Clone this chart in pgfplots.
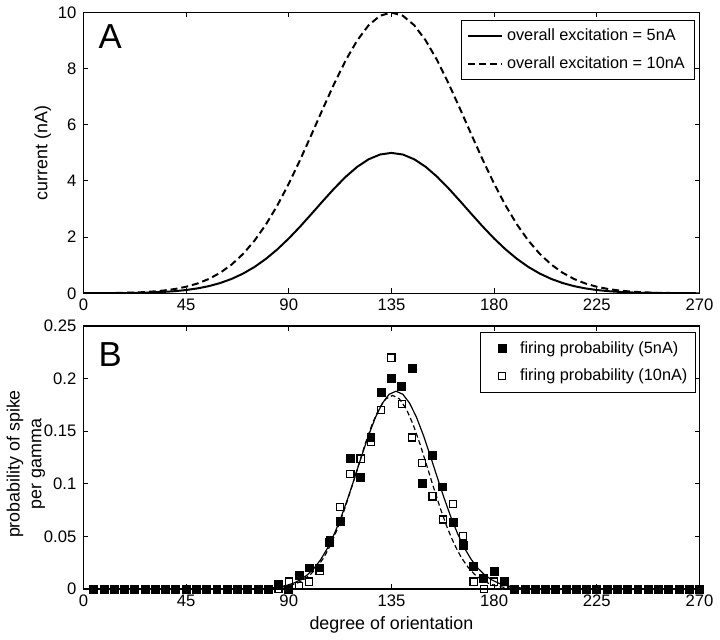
\documentclass[border=0pt]{standalone}
\usepackage{pgfplots}
\pgfplotsset{compat=1.18}
\usepackage{pgfplotstable}
\usepackage{fontspec}
\setmainfont{Liberation Sans}

\pgfplotstableread{
x a5 a10
0 0.001 0.002
5 0.002 0.004
10 0.004 0.007
15 0.006 0.012
20 0.011 0.021
25 0.018 0.036
30 0.030 0.060
35 0.048 0.096
40 0.075 0.151
45 0.116 0.232
50 0.174 0.348
55 0.255 0.511
60 0.366 0.732
65 0.513 1.026
70 0.702 1.404
75 0.938 1.876
80 1.226 2.451
85 1.565 3.129
90 1.951 3.902
95 2.377 4.754
100 2.830 5.659
105 3.291 6.582
110 3.739 7.479
115 4.152 8.304
120 4.504 9.007
125 4.773 9.546
130 4.942 9.885
135 5.000 10.000
140 4.942 9.885
145 4.773 9.546
150 4.504 9.007
155 4.152 8.304
160 3.739 7.479
165 3.291 6.582
170 2.830 5.659
175 2.377 4.754
180 1.951 3.902
185 1.565 3.129
190 1.226 2.451
195 0.938 1.876
200 0.702 1.404
205 0.513 1.026
210 0.366 0.732
215 0.255 0.511
220 0.174 0.348
225 0.116 0.232
230 0.075 0.151
235 0.048 0.096
240 0.030 0.060
245 0.018 0.036
250 0.011 0.021
255 0.006 0.012
260 0.004 0.007
265 0.002 0.004
270 0.001 0.002
}\currents

\pgfplotstableread{
x p5 p10
4.5 0 0
9 0 0
13.5 0 0
18 0 0
22.5 0 0
27 0 0
31.5 0 0
36 0 0
40.5 0 0
45 0 0
49.5 0 0
54 0 0
58.5 0 0
63 0 0
67.5 0 0
72 0 0
76.5 0 0
81 0 0
85.5 0.004 0
90 0 0.007
94.5 0.013 0.003
99 0.020 0.007
103.5 0.020 0.017
108 0.044 0.046
112.5 0.064 0.078
117 0.124 0.109
121.5 0.106 0.124
126 0.144 0.140
130.5 0.187 0.170
135 0.200 0.220
139.5 0.193 0.176
144 0.210 0.144
148.5 0.100 0.120
153 0.127 0.088
157.5 0.097 0.066
162 0.063 0.081
166.5 0.041 0.050
171 0.021 0.007
175.5 0.010 0
180 0.017 0.007
184.5 0.007 0.003
189 0 0
193.5 0 0
198 0 0
202.5 0 0
207 0 0
211.5 0 0
216 0 0
220.5 0 0
225 0 0
229.5 0 0
234 0 0
238.5 0 0
243 0 0
247.5 0 0
252 0 0
256.5 0 0
261 0 0
265.5 0 0
270 0 0
}\firing

\pgfplotstableread{
x y
0 0
77 0.0003
80 0.0006
83 0.0011
86 0.0020
89 0.0033
92 0.0054
95 0.0086
98 0.0131
101 0.0194
104 0.0279
107 0.0389
110 0.0525
113 0.0686
116 0.0869
119 0.1066
122 0.1268
125 0.1461
128 0.1631
131 0.1765
134 0.1851
137 0.1880
140 0.1851
143 0.1765
146 0.1631
149 0.1461
152 0.1268
155 0.1066
158 0.0869
161 0.0686
164 0.0525
167 0.0389
170 0.0279
173 0.0194
176 0.0131
179 0.0086
182 0.0054
185 0.0033
188 0.0020
191 0.0011
194 0.0006
197 0.0003
270 0
}\fitfive

\pgfplotstableread{
x y
0 0
78.5 0.0003
81.5 0.0005
84.5 0.0010
87.5 0.0018
90.5 0.0032
93.5 0.0054
96.5 0.0087
99.5 0.0137
102.5 0.0208
105.5 0.0303
108.5 0.0427
111.5 0.0580
114.5 0.0761
117.5 0.0962
120.5 0.1172
123.5 0.1379
126.5 0.1564
129.5 0.1712
132.5 0.1807
135.5 0.1840
138.5 0.1807
141.5 0.1712
144.5 0.1564
147.5 0.1379
150.5 0.1172
153.5 0.0962
156.5 0.0761
159.5 0.0580
162.5 0.0427
165.5 0.0303
168.5 0.0208
171.5 0.0137
174.5 0.0087
177.5 0.0054
180.5 0.0032
183.5 0.0018
186.5 0.0010
189.5 0.0005
192.5 0.0003
270 0
}\fitten

\pgfplotsset{
  every axis/.append style={
    scale only axis,
    width=310.5pt,
    xmin=0, xmax=270,
    xtick={0,45,90,135,180,225,270},
    tick align=inside,
    major tick length=2.5pt,
    axis line style={line width=0.6pt},
    every tick/.style={black, line width=0.5pt},
    /pgf/number format/assume math mode=true,
    ticklabel style={font=\fontsize{8.4}{10}\selectfont},
    xticklabel style={yshift=0.5pt},
    label style={font=\fontsize{9}{11}\selectfont},
    legend style={font=\fontsize{8.2}{10}\selectfont, draw=black, line width=0.5pt, row sep=2.3pt, inner xsep=3pt, inner ysep=2.5pt},
    legend cell align=left,
  }
}

\begin{document}
\begin{tikzpicture}
\begin{axis}[
  height=141.5pt,
  ymin=0, ymax=10,
  ytick={0,2,4,6,8,10},
  ylabel={current (nA)},
  ylabel style={at={(axis description cs:-0.066,0.5)}, anchor=center},
  legend style={at={(0.9930,0.975)}, anchor=north east},
  legend image code/.code={\draw[#1] (0pt,0pt) -- (17pt,0pt);},
]
\addplot[black, line width=1pt] table[x=x, y=a5] {\currents};
\addlegendentry{overall excitation = 5nA}
\addplot[black, line width=1pt, dash pattern=on 3.5pt off 2pt] table[x=x, y=a10] {\currents};
\addlegendentry{overall excitation = 10nA}
\node[font=\fontsize{17.5}{20}\selectfont] at (axis cs:11.7,9.15) {A};
\end{axis}

\begin{axis}[
  at={(0pt,-149pt)},
  height=132.5pt,
  ymin=0, ymax=0.25,
  ytick={0,0.05,0.1,0.15,0.2,0.25},
  scaled y ticks=false,
  yticklabel style={/pgf/number format/fixed, /pgf/number format/precision=2},
  ylabel={probability of spike\\per gamma},
  ylabel style={at={(axis description cs:-0.0934,0.475)}, anchor=center, align=center},
  xlabel={degree of orientation},
  xlabel style={at={(axis description cs:0.5,-0.136)}, anchor=center},
  legend style={at={(0.9940,0.977)}, anchor=north east, inner xsep=2pt},
  legend image code/.code={\path[draw=none, fill=none] (0pt,-2pt) rectangle (16pt,2pt); \draw[#1] plot coordinates {(9pt,0pt)};},
]
\addplot[only marks, mark=square*, mark size=2pt, mark options={black, fill=black}] table[x=x, y=p5] {\firing};
\addlegendentry{firing probability (5nA)}
\addplot[only marks, mark=square, mark size=1.8pt, mark options={black, line width=0.6pt}] table[x=x, y=p10] {\firing};
\addlegendentry{firing probability (10nA)}
\addplot[black, line width=0.6pt, forget plot] table {\fitfive};
\addplot[black, line width=0.6pt, dash pattern=on 2.5pt off 1.5pt, forget plot] table {\fitten};
\node[font=\fontsize{17.5}{20}\selectfont] at (axis cs:11.7,0.223) {B};
\end{axis}
\end{tikzpicture}
\end{document}
